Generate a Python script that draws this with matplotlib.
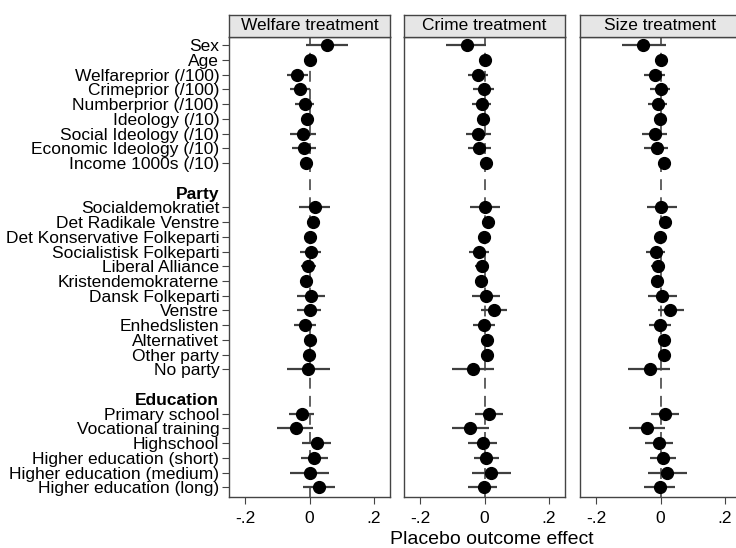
import numpy as np
import matplotlib.pyplot as plt

plt.rcParams['font.family'] = ['Liberation Sans', 'DejaVu Sans']

# linhas do gráfico (None = linha vazia, títulos em negrito)
rotulos = ['Sex', 'Age', 'Welfareprior (/100)', 'Crimeprior (/100)', 'Numberprior (/100)',
           'Ideology (/10)', 'Social Ideology (/10)', 'Economic Ideology (/10)',
           'Income 1000s (/10)', None, 'Party',
           'Socialdemokratiet', 'Det Radikale Venstre', 'Det Konservative Folkeparti',
           'Socialistisk Folkeparti', 'Liberal Alliance', 'Kristendemokraterne',
           'Dansk Folkeparti', 'Venstre', 'Enhedslisten', 'Alternativet', 'Other party',
           'No party', None, 'Education',
           'Primary school', 'Vocational training', 'Highschool',
           'Higher education (short)', 'Higher education (medium)', 'Higher education (long)']
titulos = ['Party', 'Education']
paineis = ['Welfare treatment', 'Crime treatment', 'Size treatment']

# estimativas e intervalos (nan nas linhas sem variável)
nan = np.nan
welfare_est = [0.055, 0.002, -0.040, -0.029, -0.015, -0.009, -0.021, -0.017, -0.010, nan, nan,
               0.017, 0.010, 0.002, 0.004, -0.006, -0.012, 0.004, 0.002, -0.013, 0.000, -0.002,
               -0.004, nan, nan,
               -0.022, -0.042, 0.022, 0.015, 0.000, 0.030]
welfare_lo = [-0.010, -0.005, -0.070, -0.060, -0.046, -0.016, -0.060, -0.053, -0.017, nan, nan,
              -0.033, -0.005, -0.010, -0.030, -0.026, -0.018, -0.040, -0.039, -0.048, -0.015, -0.010,
              -0.070, nan, nan,
              -0.063, -0.100, -0.024, -0.027, -0.062, -0.019]
welfare_hi = [0.120, 0.008, -0.006, 0.003, 0.015, -0.002, 0.020, 0.020, -0.003, nan, nan,
              0.064, 0.022, 0.017, 0.037, 0.019, -0.006, 0.048, 0.037, 0.020, 0.017, 0.008,
              0.063, nan, nan,
              0.015, 0.012, 0.068, 0.056, 0.060, 0.078]

crime_est = [-0.054, 0.001, -0.021, -0.002, -0.008, -0.004, -0.021, -0.016, 0.006, nan, nan,
             0.002, 0.012, -0.001, -0.018, -0.008, -0.011, 0.004, 0.028, -0.002, 0.007, 0.007,
             -0.035, nan, nan,
             0.013, -0.045, -0.005, 0.005, 0.021, -0.003]
crime_lo = [-0.120, -0.005, -0.050, -0.037, -0.040, -0.010, -0.057, -0.050, 0.000, nan, nan,
            -0.045, -0.002, -0.015, -0.048, -0.030, -0.017, -0.040, -0.011, -0.037, -0.006, 0.001,
            -0.100, nan, nan,
            -0.029, -0.100, -0.050, -0.034, -0.040, -0.050]
crime_hi = [0.004, 0.007, 0.011, 0.028, 0.020, 0.002, 0.020, 0.020, 0.012, nan, nan,
            0.047, 0.025, 0.015, 0.015, 0.015, -0.005, 0.048, 0.069, 0.033, 0.019, 0.013,
            0.030, nan, nan,
            0.056, 0.013, 0.038, 0.045, 0.082, 0.040]

size_est = [-0.053, 0.002, -0.016, 0.000, -0.008, -0.003, -0.016, -0.011, 0.010, nan, nan,
            0.003, 0.015, -0.002, -0.015, -0.008, -0.010, 0.005, 0.029, -0.002, 0.012, 0.010,
            -0.034, nan, nan,
            0.015, -0.041, -0.005, 0.008, 0.020, -0.003]
size_lo = [-0.120, -0.004, -0.050, -0.032, -0.040, -0.009, -0.057, -0.052, 0.004, nan, nan,
           -0.043, 0.000, -0.015, -0.046, -0.030, -0.016, -0.040, -0.008, -0.036, -0.001, 0.004,
           -0.100, nan, nan,
           -0.028, -0.097, -0.049, -0.034, -0.040, -0.050]
size_hi = [0.017, 0.008, 0.013, 0.030, 0.020, 0.003, 0.020, 0.023, 0.016, nan, nan,
           0.051, 0.030, 0.015, 0.015, 0.015, -0.004, 0.051, 0.072, 0.033, 0.028, 0.016,
           0.031, nan, nan,
           0.056, 0.013, 0.038, 0.049, 0.082, 0.044]

dados = [(welfare_est, welfare_lo, welfare_hi),
         (crime_est, crime_lo, crime_hi),
         (size_est, size_lo, size_hi)]

fig = plt.figure(figsize=(7.36, 5.48), dpi=100)
esquerdas = [229, 404, 580]
largura = 161
topo, base = 37, 497
cor_borda = '#444444'

y = np.arange(len(rotulos))
for i, (titulo, (est, lo, hi)) in enumerate(zip(paineis, dados)):
    ax = fig.add_axes([esquerdas[i] / 736, 1 - base / 548, largura / 736, (base - topo) / 548])
    est, lo, hi = np.array(est), np.array(lo), np.array(hi)
    ax.axvline(0, color='#555555', lw=1.3, linestyle=(0, (6, 4)), zorder=1)
    ax.hlines(y, lo, hi, color='#404040', lw=1.6, zorder=2)
    ax.plot(est, y, 'o', color='black', markersize=8.5, zorder=3)
    ax.set_xlim(-0.25, 0.25)
    ax.set_ylim(30.65, -0.55)
    ax.set_xticks([-0.2, 0, 0.2])
    ax.set_xticklabels(['-.2', '0', '.2'], fontsize=12.5)
    ax.tick_params(axis='x', length=5, color=cor_borda, pad=5)
    for s in ax.spines.values():
        s.set_color(cor_borda)
        s.set_linewidth(1.0)

    if i == 0:
        idx = [k for k, r in enumerate(rotulos) if r is not None]
        ax.set_yticks(idx)
        ax.set_yticklabels([rotulos[k] for k in idx], fontsize=12.5)
        ax.tick_params(axis='y', length=5, color=cor_borda, pad=2)
        for tick, k in zip(ax.yaxis.get_major_ticks(), idx):
            if rotulos[k] in titulos:
                tick.tick1line.set_visible(False)
                tick.label1.set_fontweight('bold')
    else:
        ax.set_yticks([])

    # caixa do título do painel
    cab = fig.add_axes([esquerdas[i] / 736, 1 - topo / 548, largura / 736, 22 / 548])
    cab.set_facecolor('#e6e6e6')
    cab.set_xticks([])
    cab.set_yticks([])
    for s in cab.spines.values():
        s.set_color(cor_borda)
        s.set_linewidth(1.0)
    cab.text(0.5, 0.5, titulo, ha='center', va='center', fontsize=12.5, transform=cab.transAxes)

fig.text(492 / 736, 1 - 540 / 548, 'Placebo outcome effect', ha='center', va='center', fontsize=14)

fig.savefig('out.png', dpi=100)
